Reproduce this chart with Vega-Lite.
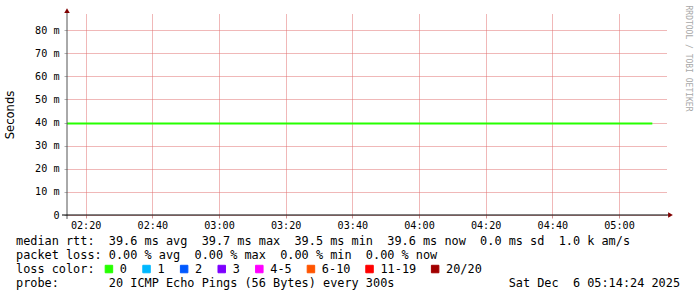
{
  "$schema": "https://vega.github.io/schema/vega-lite/v6.json",
  "width": 600,
  "height": 201,
  "autosize": {"type": "none"},
  "padding": {"left": 67, "top": 14, "right": 30, "bottom": 82},
  "background": "white",
  "title": {
    "text": [
      "median\u00a0rtt:\u00a0\u00a039.6\u00a0ms\u00a0avg\u00a0\u00a039.7\u00a0ms\u00a0max\u00a0\u00a039.5\u00a0ms\u00a0min\u00a0\u00a039.6\u00a0ms\u00a0now\u00a0\u00a00.0\u00a0ms\u00a0sd\u00a0\u00a01.0\u00a0k\u00a0am/s",
      "packet\u00a0loss:\u00a00.00\u00a0%\u00a0avg\u00a0\u00a00.00\u00a0%\u00a0max\u00a0\u00a00.00\u00a0%\u00a0min\u00a0\u00a00.00\u00a0%\u00a0now",
      "loss\u00a0color:",
      "probe:\u00a0\u00a0\u00a0\u00a0\u00a0\u00a0\u00a020\u00a0ICMP\u00a0Echo\u00a0Pings\u00a0(56\u00a0Bytes)\u00a0every\u00a0300s\u00a0\u00a0\u00a0\u00a0\u00a0\u00a0\u00a0\u00a0\u00a0\u00a0\u00a0\u00a0\u00a0\u00a0\u00a0\u00a0Sat\u00a0Dec\u00a0\u00a06\u00a005:14:24\u00a02025"
    ],
    "orient": "bottom",
    "anchor": "start",
    "frame": "group",
    "font": "DejaVu Sans Mono",
    "fontSize": 11.87,
    "fontWeight": "normal",
    "color": "black",
    "lineHeight": 14,
    "offset": 4,
    "dx": -51,
    "dy": -44
  },
  "config": {"view": {"stroke": null}},
  "layer": [
    {
      "data": {
        "values": [
          {"time": "2025-12-06T02:10:00", "rtt": 0.0396, "loss": "0"},
          {"time": "2025-12-06T02:15:00", "rtt": 0.0396, "loss": "0"},
          {"time": "2025-12-06T02:20:00", "rtt": 0.0396, "loss": "0"},
          {"time": "2025-12-06T02:25:00", "rtt": 0.0396, "loss": "0"},
          {"time": "2025-12-06T02:30:00", "rtt": 0.0396, "loss": "0"},
          {"time": "2025-12-06T02:35:00", "rtt": 0.0396, "loss": "0"},
          {"time": "2025-12-06T02:40:00", "rtt": 0.0396, "loss": "0"},
          {"time": "2025-12-06T02:45:00", "rtt": 0.0396, "loss": "0"},
          {"time": "2025-12-06T02:50:00", "rtt": 0.0396, "loss": "0"},
          {"time": "2025-12-06T02:55:00", "rtt": 0.0396, "loss": "0"},
          {"time": "2025-12-06T03:00:00", "rtt": 0.0396, "loss": "0"},
          {"time": "2025-12-06T03:05:00", "rtt": 0.0396, "loss": "0"},
          {"time": "2025-12-06T03:10:00", "rtt": 0.0396, "loss": "0"},
          {"time": "2025-12-06T03:15:00", "rtt": 0.0396, "loss": "0"},
          {"time": "2025-12-06T03:20:00", "rtt": 0.0396, "loss": "0"},
          {"time": "2025-12-06T03:25:00", "rtt": 0.0396, "loss": "0"},
          {"time": "2025-12-06T03:30:00", "rtt": 0.0396, "loss": "0"},
          {"time": "2025-12-06T03:35:00", "rtt": 0.0396, "loss": "0"},
          {"time": "2025-12-06T03:40:00", "rtt": 0.0396, "loss": "0"},
          {"time": "2025-12-06T03:45:00", "rtt": 0.0396, "loss": "0"},
          {"time": "2025-12-06T03:50:00", "rtt": 0.0396, "loss": "0"},
          {"time": "2025-12-06T03:55:00", "rtt": 0.0396, "loss": "0"},
          {"time": "2025-12-06T04:00:00", "rtt": 0.0396, "loss": "0"},
          {"time": "2025-12-06T04:05:00", "rtt": 0.0396, "loss": "0"},
          {"time": "2025-12-06T04:10:00", "rtt": 0.0396, "loss": "0"},
          {"time": "2025-12-06T04:15:00", "rtt": 0.0396, "loss": "0"},
          {"time": "2025-12-06T04:20:00", "rtt": 0.0396, "loss": "0"},
          {"time": "2025-12-06T04:25:00", "rtt": 0.0396, "loss": "0"},
          {"time": "2025-12-06T04:30:00", "rtt": 0.0396, "loss": "0"},
          {"time": "2025-12-06T04:35:00", "rtt": 0.0396, "loss": "0"},
          {"time": "2025-12-06T04:40:00", "rtt": 0.0396, "loss": "0"},
          {"time": "2025-12-06T04:45:00", "rtt": 0.0396, "loss": "0"},
          {"time": "2025-12-06T04:50:00", "rtt": 0.0396, "loss": "0"},
          {"time": "2025-12-06T04:55:00", "rtt": 0.0396, "loss": "0"},
          {"time": "2025-12-06T05:00:00", "rtt": 0.0396, "loss": "0"},
          {"time": "2025-12-06T05:05:00", "rtt": 0.0396, "loss": "0"},
          {"time": "2025-12-06T05:10:00", "rtt": 0.0396, "loss": "0"}
        ]
      },
      "mark": {"type": "line", "clip": true, "strokeWidth": 2, "interpolate": "step-before"},
      "encoding": {
        "x": {
          "field": "time",
          "type": "temporal",
          "scale": {"domain": [
            {"year": 2025, "month": 12, "date": 6, "hours": 2, "minutes": 14, "seconds": 24},
            {"year": 2025, "month": 12, "date": 6, "hours": 5, "minutes": 14, "seconds": 24}
          ]},
          "axis": {
            "values": [
              {"year": 2025, "month": 12, "date": 6, "hours": 2, "minutes": 20},
              {"year": 2025, "month": 12, "date": 6, "hours": 2, "minutes": 30},
              {"year": 2025, "month": 12, "date": 6, "hours": 2, "minutes": 40},
              {"year": 2025, "month": 12, "date": 6, "hours": 2, "minutes": 50},
              {"year": 2025, "month": 12, "date": 6, "hours": 3, "minutes": 0},
              {"year": 2025, "month": 12, "date": 6, "hours": 3, "minutes": 10},
              {"year": 2025, "month": 12, "date": 6, "hours": 3, "minutes": 20},
              {"year": 2025, "month": 12, "date": 6, "hours": 3, "minutes": 30},
              {"year": 2025, "month": 12, "date": 6, "hours": 3, "minutes": 40},
              {"year": 2025, "month": 12, "date": 6, "hours": 3, "minutes": 50},
              {"year": 2025, "month": 12, "date": 6, "hours": 4, "minutes": 0},
              {"year": 2025, "month": 12, "date": 6, "hours": 4, "minutes": 10},
              {"year": 2025, "month": 12, "date": 6, "hours": 4, "minutes": 20},
              {"year": 2025, "month": 12, "date": 6, "hours": 4, "minutes": 30},
              {"year": 2025, "month": 12, "date": 6, "hours": 4, "minutes": 40},
              {"year": 2025, "month": 12, "date": 6, "hours": 4, "minutes": 50},
              {"year": 2025, "month": 12, "date": 6, "hours": 5, "minutes": 0},
              {"year": 2025, "month": 12, "date": 6, "hours": 5, "minutes": 10}
            ],
            "grid": true,
            "gridColor": {"condition": {"test": "minutes(datum.value) % 20 == 0", "value": "#e07070"}, "value": "#b0b0b0"},
            "gridDash": [1, 1],
            "gridWidth": 1,
            "ticks": true,
            "tickSize": 3,
            "tickColor": "#d09090",
            "domain": false,
            "labelExpr": "minutes(datum.value) % 20 == 0 ? timeFormat(datum.value, '%H:%M') : ''",
            "labelFont": "DejaVu Sans Mono",
            "labelFontSize": 10.15,
            "labelColor": "black",
            "labelPadding": 2,
            "labelFlush": false,
            "labelOverlap": false,
            "title": "RRDTOOL / TOBI OETIKER",
            "titleFont": "DejaVu Sans Mono",
            "titleFontSize": 8,
            "titleFontWeight": "normal",
            "titleColor": "#a8a8a8",
            "titleAngle": 90,
            "titleAlign": "left",
            "titleBaseline": "middle",
            "titleX": 620,
            "titleY": -210
          }
        },
        "y": {
          "field": "rtt",
          "type": "quantitative",
          "scale": {"domain": [0, 0.087], "nice": false, "zero": true},
          "axis": {
            "values": [0, 0.005, 0.01, 0.015, 0.02, 0.025, 0.03, 0.035, 0.04, 0.045, 0.05, 0.055, 0.06, 0.065, 0.07, 0.075, 0.08, 0.085],
            "tickCount": 17,
            "grid": true,
            "gridColor": {"condition": {"test": "round(datum.value*1000) % 10 == 0", "value": "#e07070"}, "value": "#b0b0b0"},
            "gridDash": [1, 1],
            "gridWidth": 1,
            "ticks": true,
            "tickSize": 3,
            "tickColor": "#b0b0b0",
            "domain": false,
            "labelExpr": "datum.value == 0 ? '0\u00a0\u00a0' : (round(datum.value*1000) % 10 == 0 ? round(datum.value*1000) + ' m' : '')",
            "labelFont": "DejaVu Sans Mono",
            "labelFontSize": 10.15,
            "labelColor": "black",
            "labelPadding": 5,
            "labelOverlap": false,
            "title": "Seconds",
            "titleFont": "DejaVu Sans",
            "titleFontSize": 11.6,
            "titleFontWeight": "normal",
            "titleColor": "black",
            "titleAngle": -90,
            "titleAlign": "center",
            "titleBaseline": "middle",
            "titleX": -57,
            "titleY": 100.5
          }
        },
        "color": {
          "field": "loss",
          "type": "nominal",
          "scale": {
            "domain": ["0", "1", "2", "3", "4-5", "6-10", "11-19", "20/20"],
            "range": ["#26ff00", "#00b8ff", "#0059ff", "#7e00ff", "#ff00ff", "#ff5500", "#ff0000", "#a10000"]
          },
          "legend": {
            "orient": "none",
            "legendX": 36,
            "legendY": 249,
            "direction": "horizontal",
            "title": null,
            "padding": 0,
            "symbolType": "square",
            "symbolSize": 56,
            "symbolStrokeWidth": 1,
            "labelFont": "DejaVu Sans Mono",
            "labelFontSize": 11.87,
            "labelColor": "black",
            "labelOffset": 5,
            "columnPadding": 12.6,
            "encode": {
              "symbols": {
                "update": {
                  "fill": {"scale": "color", "field": "value"},
                  "stroke": {"value": "black"},
                  "strokeWidth": {"value": 1},
                  "opacity": {"value": 1}
                }
              }
            }
          }
        }
      }
    },
    {
      "data": {"values": [{}]},
      "mark": {"type": "rule", "color": "#555555", "strokeWidth": 1},
      "encoding": {
        "x": {"datum": {"year": 2025, "month": 12, "date": 6, "hours": 2, "minutes": 14, "seconds": 24}, "type": "temporal"},
        "y": {"datum": -0.0017, "type": "quantitative"},
        "y2": {"datum": 0.0887}
      }
    },
    {
      "data": {"values": [{}]},
      "mark": {"type": "rule", "color": "black", "strokeWidth": 1},
      "encoding": {
        "x": {"datum": {"year": 2025, "month": 12, "date": 6, "hours": 2, "minutes": 12, "seconds": 54}, "type": "temporal"},
        "x2": {"datum": {"year": 2025, "month": 12, "date": 6, "hours": 5, "minutes": 15, "seconds": 27}},
        "y": {"datum": 0, "type": "quantitative"}
      }
    },
    {
      "data": {"values": [{}]},
      "mark": {"type": "point", "shape": "triangle-up", "filled": true, "color": "#800000", "size": 30, "opacity": 1},
      "encoding": {
        "x": {"datum": {"year": 2025, "month": 12, "date": 6, "hours": 2, "minutes": 14, "seconds": 24}, "type": "temporal"},
        "y": {"datum": 0.0885, "type": "quantitative"}
      }
    },
    {
      "data": {"values": [{}]},
      "mark": {"type": "point", "shape": "triangle-right", "filled": true, "color": "#800000", "size": 30, "opacity": 1},
      "encoding": {
        "x": {"datum": {"year": 2025, "month": 12, "date": 6, "hours": 5, "minutes": 15, "seconds": 27}, "type": "temporal"},
        "y": {"datum": 0, "type": "quantitative"}
      }
    }
  ]
}
